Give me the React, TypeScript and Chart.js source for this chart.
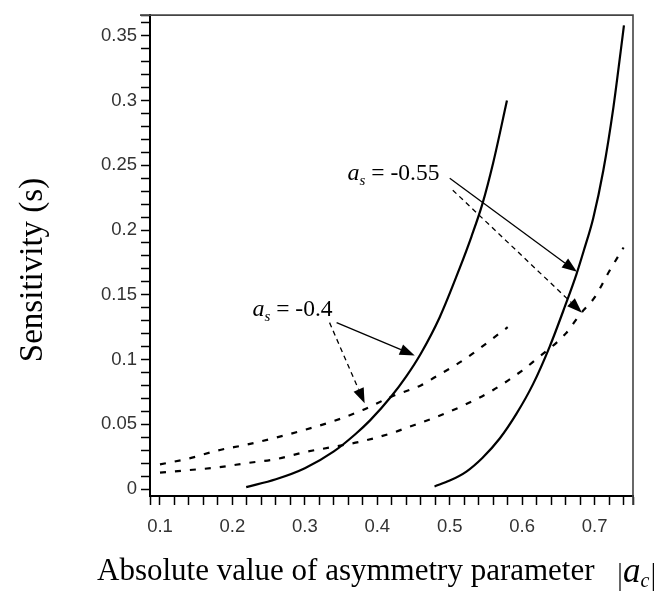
import React, { useEffect, useRef } from "react";
import { Chart, registerables } from "chart.js";

Chart.register(...registerables);

// a_s = -0.4, solid curve
const solid04X = [0.219, 0.26, 0.30, 0.34, 0.37, 0.39, 0.42, 0.44, 0.46, 0.486, 0.514, 0.53, 0.545, 0.56, 0.579];
const solid04Y = [0.0015, 0.0075, 0.016, 0.029, 0.0425, 0.053, 0.072, 0.087, 0.1045, 0.1325, 0.171, 0.195, 0.220, 0.252, 0.300];

// a_s = -0.55, solid curve
const solid055X = [0.479, 0.50, 0.523, 0.545, 0.569, 0.592, 0.615, 0.638, 0.659, 0.675, 0.685, 0.698, 0.712, 0.726, 0.736, 0.7405];
const solid055Y = [0.002, 0.0065, 0.0135, 0.024, 0.039, 0.058, 0.081, 0.110, 0.141, 0.166, 0.184, 0.209, 0.246, 0.295, 0.338, 0.358];

// a_s = -0.4, dashed curve
const dashed04X = [0.10, 0.14, 0.18, 0.22, 0.26, 0.30, 0.34, 0.38, 0.42, 0.46, 0.48, 0.52, 0.56, 0.58];
const dashed04Y = [0.019, 0.0236, 0.0298, 0.0343, 0.0397, 0.0457, 0.0525, 0.061, 0.0715, 0.080, 0.0865, 0.100, 0.1165, 0.125];

// a_s = -0.55, dashed curve
const dashed055X = [0.10, 0.14, 0.18, 0.22, 0.26, 0.30, 0.34, 0.38, 0.42, 0.44, 0.48, 0.52, 0.56, 0.60, 0.62, 0.66, 0.68, 0.70, 0.72, 0.74];
const dashed055Y = [0.0126, 0.0146, 0.0167, 0.020, 0.0231, 0.0285, 0.0326, 0.037, 0.0432, 0.0472, 0.0553, 0.0648, 0.0765, 0.0915, 0.1005, 0.120, 0.135, 0.148, 0.168, 0.1865];

const xTickLabels = ["0.1", "0.2", "0.3", "0.4", "0.5", "0.6", "0.7"];
const yTickLabels = ["0", "0.05", "0.1", "0.15", "0.2", "0.25", "0.3", "0.35"];

const X_MIN = 0.0862;
const X_MAX = 0.753;
const Y_MIN = -0.0054;
const Y_MAX = 0.366;

const yTitle = "Sensitivity (s)";
const xTitle = "Absolute value of asymmetry parameter";

// annotation labels (data units) and arrows
const annLabels = ["-0.4", "-0.55"];
const annTextPos = [
  [0.2277, 0.1338],
  [0.359, 0.239],
];
const annArrows = [
  { from: [0.3438, 0.1285], to: [0.4517, 0.1031], dashed: false },
  { from: [0.3341, 0.1285], to: [0.3825, 0.0662], dashed: true },
  { from: [0.500, 0.240], to: [0.6756, 0.1677], dashed: false },
  { from: [0.5042, 0.2308], to: [0.6825, 0.1362], dashed: true },
];

const zip = (xs: number[], ys: number[]) => xs.map((x, i) => ({ x, y: ys[i] }));

const near = (v: number, step: number) => Math.abs(v / step - Math.round(v / step)) < 1e-6;

const decorPlugin = {
  id: "decor",
  afterDraw(chart: any) {
    const ctx = chart.ctx as CanvasRenderingContext2D;
    const { left, right, top, bottom } = chart.chartArea;
    const sx = chart.scales.x;
    const sy = chart.scales.y;
    ctx.save();
    // top & right frame
    ctx.strokeStyle = "#444";
    ctx.lineWidth = 1.6;
    ctx.beginPath();
    ctx.moveTo(left - 10, top);
    ctx.lineTo(right, top);
    ctx.lineTo(right, bottom + 9);
    ctx.stroke();

    // annotation labels
    ctx.fillStyle = "#000";
    ctx.textBaseline = "alphabetic";
    ctx.textAlign = "left";
    annLabels.forEach((lab, i) => {
      const px = sx.getPixelForValue(annTextPos[i][0]);
      const py = sy.getPixelForValue(annTextPos[i][1]);
      ctx.font = "italic 24px 'Liberation Serif'";
      ctx.fillText("a", px, py);
      let w = ctx.measureText("a").width;
      ctx.font = "italic 15px 'Liberation Serif'";
      ctx.fillText("s", px + w, py + 5);
      w += ctx.measureText("s").width;
      ctx.font = "23.5px 'Liberation Serif'";
      ctx.fillText(" = " + lab, px + w, py);
    });

    // arrows
    annArrows.forEach((a) => {
      const x1 = sx.getPixelForValue(a.from[0]);
      const y1 = sy.getPixelForValue(a.from[1]);
      const x2 = sx.getPixelForValue(a.to[0]);
      const y2 = sy.getPixelForValue(a.to[1]);
      const ang = Math.atan2(y2 - y1, x2 - x1);
      const hl = 15;
      const hw = 5.5;
      const bx = x2 - hl * Math.cos(ang);
      const by = y2 - hl * Math.sin(ang);
      ctx.strokeStyle = "#000";
      ctx.lineWidth = 1.3;
      ctx.setLineDash(a.dashed ? [5, 4] : []);
      ctx.beginPath();
      ctx.moveTo(x1, y1);
      ctx.lineTo(bx, by);
      ctx.stroke();
      ctx.setLineDash([]);
      ctx.beginPath();
      ctx.moveTo(x2, y2);
      ctx.lineTo(bx + hw * Math.sin(ang), by - hw * Math.cos(ang));
      ctx.lineTo(bx - hw * Math.sin(ang), by + hw * Math.cos(ang));
      ctx.closePath();
      ctx.fill();
    });

    // y title
    ctx.save();
    ctx.translate(33, 270);
    ctx.rotate(-Math.PI / 2);
    ctx.font = "33px 'Liberation Serif'";
    ctx.textAlign = "center";
    ctx.textBaseline = "middle";
    ctx.fillText(yTitle, 0, 0);
    ctx.restore();

    // x title
    ctx.font = "31px 'Liberation Serif'";
    ctx.textAlign = "left";
    ctx.textBaseline = "alphabetic";
    ctx.fillText(xTitle, 97, 580);
    // |a_c|
    const bx0 = 620;
    ctx.strokeStyle = "#000";
    ctx.lineWidth = 1.2;
    ctx.beginPath();
    ctx.moveTo(bx0, 563);
    ctx.lineTo(bx0, 591);
    ctx.stroke();
    ctx.font = "italic 35px 'Liberation Serif'";
    ctx.fillText("a", bx0 + 3, 582);
    const aw = ctx.measureText("a").width;
    ctx.font = "italic 20px 'Liberation Serif'";
    ctx.fillText("c", bx0 + 3 + aw, 587);
    const cw = ctx.measureText("c").width;
    const bx1 = bx0 + 3 + aw + cw + 4;
    ctx.beginPath();
    ctx.moveTo(bx1, 563);
    ctx.lineTo(bx1, 591);
    ctx.stroke();
    ctx.restore();
  },
};

export default function App() {
  const ref = useRef<HTMLCanvasElement | null>(null);

  useEffect(() => {
    if (!ref.current) return;
    const xTicks: number[] = [X_MIN];
    for (let i = 0; i <= 32; i++) xTicks.push(Math.round((0.1 + i * 0.02) * 1000) / 1000);
    xTicks.push(X_MAX);
    const yTicks: number[] = [];
    for (let i = 0; i <= 36; i++) yTicks.push(Math.round(i * 0.01 * 1000) / 1000);
    yTicks.push(Y_MAX);

    const tickFont = { family: "'Liberation Sans', Arial, sans-serif", size: 18.5 };

    const chart = new Chart(ref.current, {
      type: "scatter",
      data: {
        datasets: [
          { data: zip(solid04X, solid04Y), borderColor: "#000", borderWidth: 2.2, showLine: true, pointRadius: 0, cubicInterpolationMode: "monotone" },
          { data: zip(solid055X, solid055Y), borderColor: "#000", borderWidth: 2.2, showLine: true, pointRadius: 0, cubicInterpolationMode: "monotone" },
          { data: zip(dashed04X, dashed04Y), borderColor: "#000", borderWidth: 2.2, borderDash: [6, 9], showLine: true, pointRadius: 0, cubicInterpolationMode: "monotone" },
          { data: zip(dashed055X, dashed055Y), borderColor: "#000", borderWidth: 2.2, borderDash: [6, 9], showLine: true, pointRadius: 0, cubicInterpolationMode: "monotone" },
        ] as any,
      },
      options: {
        animation: false,
        responsive: false,
        devicePixelRatio: 1,
        layout: { padding: { top: 13, right: 29, left: 0, bottom: 0 } },
        plugins: { legend: { display: false }, tooltip: { enabled: false } },
        scales: {
          x: {
            type: "linear",
            min: X_MIN,
            max: X_MAX,
            afterBuildTicks: (s: any) => {
              s.ticks = xTicks.map((v) => ({ value: v }));
            },
            afterFit: (s: any) => {
              s.height = 96;
            },
            ticks: {
              autoSkip: false,
              maxRotation: 0,
              minRotation: 0,
              padding: 11,
              color: "#333",
              font: tickFont,
              callback: (v: any) => {
                const n = Number(v);
                if (n < 0.099 || n > 0.701 || !near(n, 0.1)) return "";
                return xTickLabels[Math.round(n * 10) - 1];
              },
            },
            grid: { drawOnChartArea: false, tickLength: 9, tickColor: "#000", tickWidth: 1.5 },
            border: { color: "#000", width: 2 },
          },
          y: {
            type: "linear",
            min: Y_MIN,
            max: Y_MAX,
            afterBuildTicks: (s: any) => {
              s.ticks = yTicks.map((v) => ({ value: v }));
            },
            afterFit: (s: any) => {
              s.width = 150;
            },
            ticks: {
              autoSkip: false,
              padding: 4,
              color: "#333",
              font: tickFont,
              callback: (v: any) => {
                const n = Number(v);
                if (n > 0.351 || !near(n, 0.05)) return "";
                return yTickLabels[Math.round(n * 20)];
              },
            },
            grid: { drawOnChartArea: false, tickLength: 9, tickColor: "#000", tickWidth: 1.5 },
            border: { color: "#000", width: 2 },
          },
        },
      } as any,
      plugins: [decorPlugin],
    });
    return () => chart.destroy();
  }, []);

  return (
    <div style={{ position: "absolute", left: 0, top: 0, width: 662, height: 592, background: "#fff" }}>
      <canvas ref={ref} width={662} height={592} style={{ width: 662, height: 592, display: "block" }} />
    </div>
  );
}
